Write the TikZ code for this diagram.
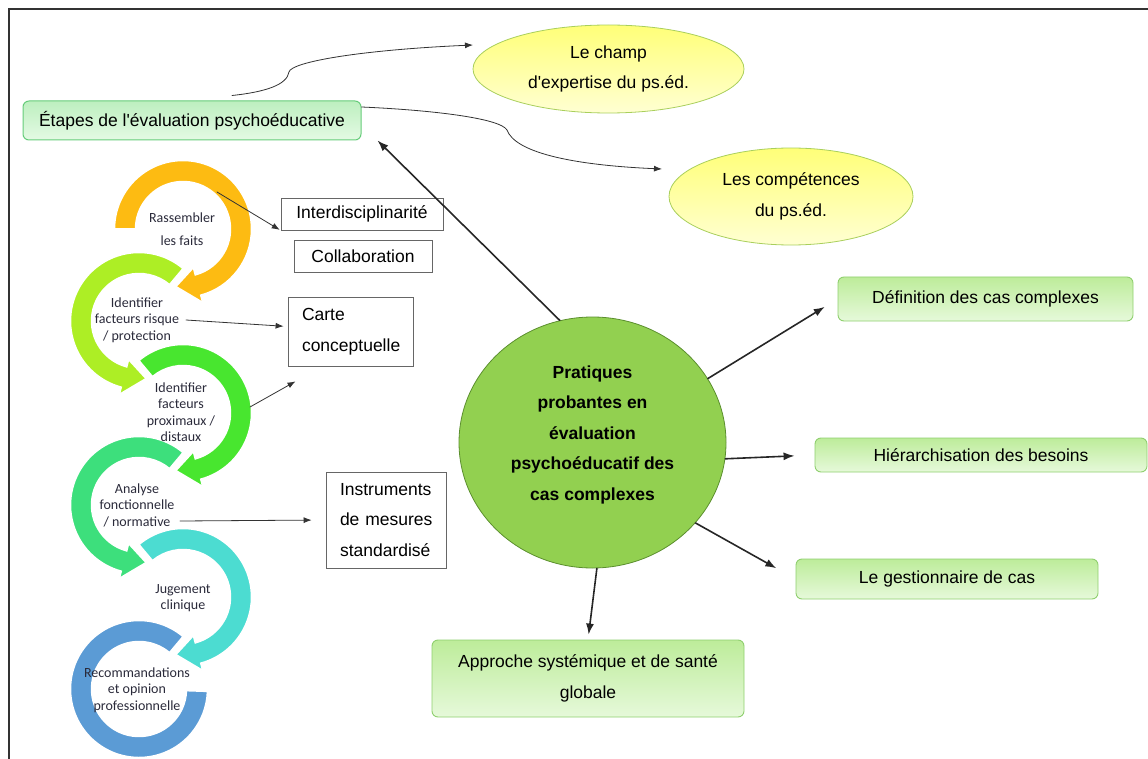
\documentclass[tikz,border=0pt]{standalone}
\usepackage{fontspec}
\setmainfont{Liberation Sans}
\newfontfamily\calibri{Carlito}
\usetikzlibrary{shapes.geometric,arrows.meta,calc}

\definecolor{arcun}{HTML}{FDBB12}
\definecolor{arcdeux}{HTML}{ADEE25}
\definecolor{arctrois}{HTML}{48E62F}
\definecolor{arcquatre}{HTML}{3DDF7C}
\definecolor{arccinq}{HTML}{4CDCD1}
\definecolor{arcsix}{HTML}{5B9BD5}
\definecolor{textetape}{HTML}{2A2A3A}
\definecolor{vertbord}{HTML}{8FCF6E}
\definecolor{verthaut}{HTML}{BDEC9A}
\definecolor{vertbas}{HTML}{E6F9DA}
\definecolor{etapebord}{HTML}{66CC7A}
\definecolor{etapehaut}{HTML}{BDEFBF}
\definecolor{etapebas}{HTML}{E4FAE4}
\definecolor{jaunebord}{HTML}{A9CF5C}
\definecolor{jaunehaut}{HTML}{FFFF78}
\definecolor{jaunebas}{HTML}{FFFFD2}
\definecolor{cerclefond}{HTML}{92D050}
\definecolor{cerclebord}{HTML}{5B8F2E}

\newcommand{\grand}{\fontsize{17.5}{30.5}\selectfont}

\tikzset{
  vertbox/.style={draw=vertbord,line width=0.9pt,rounded corners=6pt,top color=verthaut,bottom color=vertbas,
    font=\grand,align=center,inner sep=0pt},
  etapebox/.style={draw=etapebord,line width=1pt,rounded corners=6pt,top color=etapehaut,bottom color=etapebas,
    font=\grand,inner sep=0pt},
  jaunebox/.style={ellipse,draw=jaunebord,line width=0.8pt,top color=jaunehaut,bottom color=jaunebas,
    font=\grand,align=center,inner sep=0pt},
  outilbox/.style={draw=black!60,line width=0.8pt,fill=white,font=\grand,inner sep=0pt},
  etape/.style={font=\calibri\fontsize{14}{16.5}\selectfont,text=textetape,align=center,inner sep=1pt},
  fleche/.style={-{Latex[length=11pt,width=8pt]},line width=1.6pt,draw=black!85},
  fine/.style={-{Latex[length=8pt,width=6pt]},line width=0.8pt,draw=black!80}
}

\begin{document}
\begin{tikzpicture}[x=1pt,y=-1pt,line cap=round]
  \useasboundingbox (0,0) rectangle (1148,759);
  \draw[line width=1.8pt,black!80,line cap=butt] (9,760) -- (9,9) -- (1150,9);

  % spirale des etapes
  \begin{scope}[shift={(139,689)}]
    \fill[arcsix,draw=white,line width=1.5pt] (50:68.5pt) arc[start angle=50,end angle=358,radius=68.5pt]
      -- (358:47.5pt) arc[start angle=358,end angle=50,radius=47.5pt] -- cycle;
  \end{scope}
  \foreach \cx/\cy/\deb/\fin/\pointe/\coul in {183/597/130/-75/-97/arccinq,139/505/50/255/277/arcquatre,
      183/413/130/-75/-97/arctrois,139/321/50/255/277/arcdeux,183/229/180/-75/-97/arcun}{
    \begin{scope}[shift={(\cx,\cy)}]
      \fill[\coul,draw=white,line width=1.5pt] (\deb:68.5pt) arc[start angle=\deb,end angle=\fin,radius=68.5pt]
        -- (\fin:76pt) -- (\pointe:58pt) -- (\fin:40pt) -- (\fin:47.5pt)
        arc[start angle=\fin,end angle=\deb,radius=47.5pt] -- cycle;
    \end{scope}
  }
  \node[etape] (t1) at (182,229) {Rassembler\\[6.5pt]les faits};
  \node[etape] (t2) at (137,320) {Identifier\\facteurs risque\\/ protection};
  \node[etape] (t3) at (181,412) {Identifier\\facteurs\\proximaux /\\distaux};
  \node[etape] (t4) at (137,505) {Analyse\\fonctionnelle\\/ normative};
  \node[etape] (t5) at (183,598) {Jugement\\clinique};
  \node[etape] (t6) at (137,690) {Recommandations\\et opinion\\professionnelle};

  % boites des outils
  \node[outilbox,minimum width=162pt,minimum height=32pt] (inter) at (362,214) {Interdisciplinarité};
  \node[outilbox,minimum width=138pt,minimum height=32pt] (collab) at (363,256) {Collaboration};
  \node[outilbox,text width=97pt,inner xsep=14pt,minimum height=69pt,align=left] (carte) at (350.5,331.5)
    {Carte\\conceptuelle};
  \node[outilbox,text width=92pt,inner xsep=14pt,minimum height=96pt,align=left] (instr) at (386,520)
    {Instruments\\\makebox[92pt][s]{de mesures}\\standardisé};

  \coordinate (d1) at (217,192);
  \coordinate (d2) at (186,320);
  \coordinate (d3) at (250,407);
  \coordinate (d4) at (180,521);
  \draw[fine,shorten >=1pt] (d1) -- (inter.south west);
  \draw[fine,shorten >=4pt] (d2) -- ([yshift=5pt]carte.west);
  \draw[fine] (d3) -- ([xshift=-55pt,yshift=-15pt]carte.south);
  \draw[fine,shorten >=14pt] (d4) -- (instr.west);

  % etapes et ellipses
  \node[etapebox,minimum width=338pt,minimum height=39pt] (etapes) at (192,120.5)
    {Étapes de l\textquotesingle évaluation psychoéducative};
  \node[jaunebox,minimum width=271pt,minimum height=88pt] (champ) at (608.5,69)
    {Le champ\\d\textquotesingle expertise du ps.éd.};
  \node[jaunebox,minimum width=244pt,minimum height=97pt] (compet) at (791,196.5)
    {Les compétences\\du ps.éd.};
  \coordinate (champ-fin) at (473,45);
  \coordinate (compet-fin) at (662,169);
  \draw[fine] ([xshift=40pt,yshift=5pt]etapes.north) .. controls (265,92) and (287,85) .. (289,72)
    .. controls (291,62) and (360,50) .. (champ-fin);
  \draw[fine] ([yshift=13.5pt]etapes.east) .. controls (430,110) and (500,118) .. (507,130)
    .. controls (515,152) and (570,165) .. (compet-fin);

  % cercle central et ses branches
  \node[ellipse,draw=cerclebord,line width=0.8pt,fill=cerclefond,minimum width=267pt,minimum height=251pt]
    (cercle) at (592.5,442.5) {};
  \node[font=\bfseries\grand,align=center] (titre) at ([yshift=8pt]cercle.center)
    {Pratiques\\probantes en\\évaluation\\psychoéducatif des\\cas complexes};

  \node[vertbox,minimum width=295pt,minimum height=44pt] (def) at (985.5,299) {Définition des cas complexes};
  \node[vertbox,minimum width=332pt,minimum height=34pt] (hier) at (981,455) {Hiérarchisation des besoins};
  \node[vertbox,minimum width=302pt,minimum height=40pt] (gest) at (947,579) {Le gestionnaire de cas};
  \node[vertbox,minimum width=312pt,minimum height=77pt] (approche) at (588,678.5)
    {Approche systémique et de santé\\globale};

  \coordinate (etapes-fin) at ($(etapes.south east)+(16,0)$);
  \draw[fleche] (cercle.105) -- (etapes-fin);
  \draw[fleche,shorten >=15pt] (cercle.29) -- (def.west);
  \draw[fleche,shorten >=20pt] (cercle.-7.5) -- (hier.west);
  \draw[fleche,shorten >=22pt] (cercle.-38.6) -- (gest.west);
  \draw[fleche,shorten >=5pt] (cercle.-88) -- (approche.north);
\end{tikzpicture}
\end{document}
